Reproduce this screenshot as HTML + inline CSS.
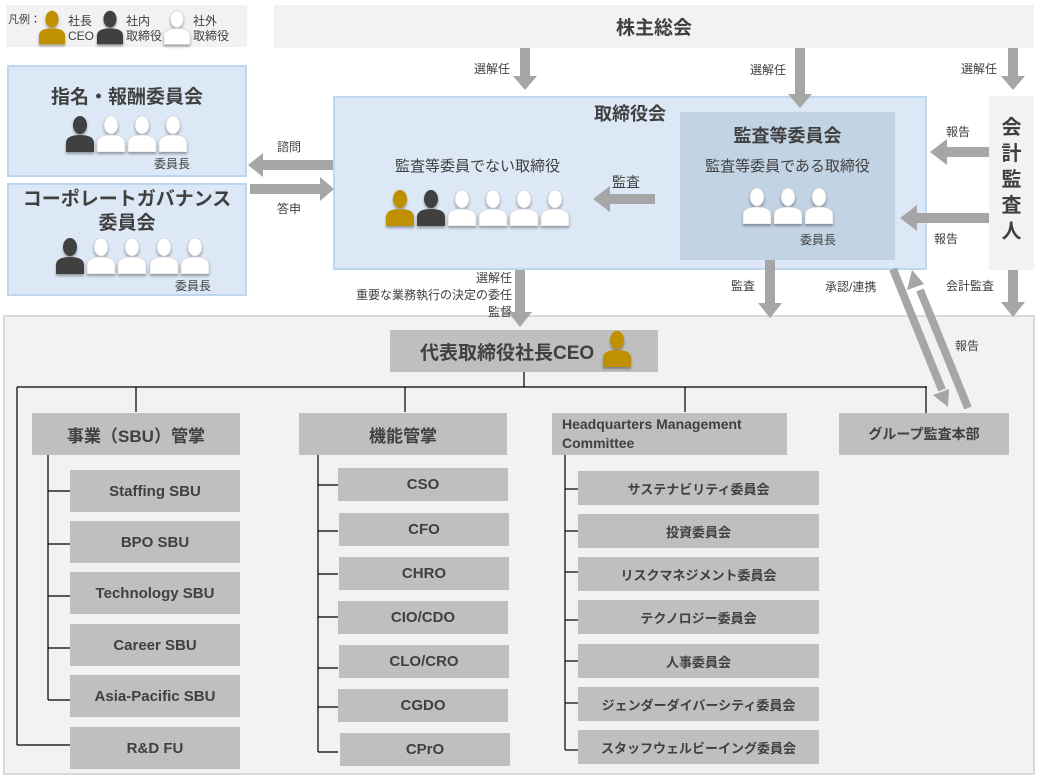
<!DOCTYPE html>
<html><head><meta charset="utf-8"><style>
*{margin:0;padding:0;box-sizing:border-box}
body{width:1042px;height:779px;background:#fff;position:relative;overflow:hidden;font-family:"Liberation Sans","Noto Sans CJK JP",sans-serif;color:#404040}
.a{position:absolute}
.box{position:absolute;display:flex;align-items:center;justify-content:center;text-align:center;font-weight:bold}
.g{background:#bfbfbf}
.t{position:absolute;font-size:12px;white-space:nowrap}
svg{position:absolute;left:0;top:0}
</style></head><body>
<div class="a" style="left:6px;top:5px;width:241px;height:42px;background:#f2f2f2"></div>
<div class="a" style="left:274px;top:5px;width:760px;height:43px;background:#f2f2f2"></div>
<div class="box" style="left:274px;top:5px;width:760px;height:43px;font-size:19px">株主総会</div>
<div class="a" style="left:7px;top:65px;width:240px;height:112px;background:#dce8f5;border:2px solid #bdd7ee"></div>
<div class="a" style="left:7px;top:183px;width:240px;height:113px;background:#dce8f5;border:2px solid #bdd7ee"></div>
<div class="a" style="left:333px;top:96px;width:594px;height:174px;background:#dce8f5;border:2px solid #bdd7ee"></div>
<div class="a" style="left:680px;top:112px;width:215px;height:148px;background:#c2d3e4"></div>
<div class="a" style="left:989px;top:96px;width:45px;height:174px;background:#f2f2f2"></div>
<div class="a" style="left:3px;top:315px;width:1032px;height:460px;background:#f2f2f2;border:2px solid #d9d9d9"></div>

<svg width="1042" height="779">
<defs>
<symbol id="p" viewBox="0 0 30 36"><ellipse cx="15" cy="9" rx="7" ry="9"/><path d="M1 36V27Q1 19 15 19Q29 19 29 27V36Z"/></symbol>
<filter id="s"><feDropShadow dx="0" dy="2" stdDeviation="1.2" flood-color="#000" flood-opacity="0.35"/></filter>
</defs>
<g fill="#a6a6a6">
<path d="M520 48h10v28h7l-12 14-12-14h7z"/>
<path d="M795 48h10v46h7l-12 14-12-14h7z"/>
<path d="M1008 48h10v28h7l-12 14-12-14h7z"/>
<path d="M333 160h-70v-7l-15 12 15 12v-7h70z"/>
<path d="M250 184h70v-7l14 12-14 12v-7h-70z"/>
<path d="M655 194h-45v-8l-17 13 17 13v-8h45z"/>
<path d="M989 147h-42v-8l-17 13 17 13v-8h42z"/>
<path d="M989 213h-72v-8l-17 13 17 13v-8h72z"/>
<path d="M515 270h10v42h7l-12 15-12-15h7z"/>
<path d="M765 260h10v43h7l-12 15-12-15h7z"/>
<path d="M1008 270h10v32h7l-12 15-12-15h7z"/>
</g>
<g stroke="#a6a6a6" stroke-width="8" fill="none">
<line x1="893" y1="269" x2="942" y2="390"/>
<line x1="968" y1="408" x2="920" y2="290"/>
</g>
<g fill="#a6a6a6">
<path d="M933 395l16 -6 -1 18z"/>
<path d="M912 270l-5 20 17 -6z"/>
</g>
<g stroke="#000" stroke-width="1.2" fill="none">
<line x1="524" y1="372" x2="524" y2="387"/>
<line x1="17" y1="387" x2="927" y2="387"/>
<line x1="17" y1="387" x2="17" y2="745"/>
<line x1="17" y1="745" x2="70" y2="745"/>
<line x1="136" y1="387" x2="136" y2="412"/>
<line x1="405" y1="387" x2="405" y2="412"/>
<line x1="685" y1="387" x2="685" y2="412"/>
<line x1="926" y1="387" x2="926" y2="413"/>
<line x1="48" y1="455" x2="48" y2="700"/>
<line x1="48" y1="491" x2="70" y2="491"/><line x1="48" y1="544" x2="70" y2="544"/><line x1="48" y1="596" x2="70" y2="596"/><line x1="48" y1="648" x2="70" y2="648"/><line x1="48" y1="700" x2="70" y2="700"/>
<line x1="318" y1="455" x2="318" y2="752"/>
<line x1="318" y1="485" x2="338" y2="485"/><line x1="318" y1="531" x2="338" y2="531"/><line x1="318" y1="574" x2="338" y2="574"/><line x1="318" y1="617" x2="338" y2="617"/><line x1="318" y1="668" x2="338" y2="668"/><line x1="318" y1="707" x2="338" y2="707"/><line x1="318" y1="752" x2="338" y2="752"/>
<line x1="565" y1="455" x2="565" y2="750"/>
<line x1="565" y1="489" x2="578" y2="489"/><line x1="565" y1="531" x2="578" y2="531"/><line x1="565" y1="572" x2="578" y2="572"/><line x1="565" y1="620" x2="578" y2="620"/><line x1="565" y1="661" x2="578" y2="661"/><line x1="565" y1="703" x2="578" y2="703"/><line x1="565" y1="750" x2="578" y2="750"/>
</g>
<g filter="url(#s)">
<use href="#p" x="38" y="10" width="28" height="35" fill="#bf9000"/>
<use href="#p" x="96" y="10" width="28" height="35" fill="#404040"/>
<use href="#p" x="163" y="10" width="28" height="35" fill="#fff" stroke="#ccc" stroke-width="0.6"/>
<use href="#p" x="65" y="116" width="30" height="36" fill="#404040"/>
<g fill="#fff" stroke="#ccc" stroke-width="0.6">
<use href="#p" x="96" y="116" width="30" height="36"/><use href="#p" x="127" y="116" width="30" height="36"/><use href="#p" x="158" y="116" width="30" height="36"/>
<use href="#p" x="86" y="238" width="30" height="36"/><use href="#p" x="117" y="238" width="30" height="36"/><use href="#p" x="149" y="238" width="30" height="36"/><use href="#p" x="180" y="238" width="30" height="36"/>
<use href="#p" x="447" y="190" width="30" height="36"/><use href="#p" x="478" y="190" width="30" height="36"/><use href="#p" x="509" y="190" width="30" height="36"/><use href="#p" x="540" y="190" width="30" height="36"/>
<use href="#p" x="742" y="188" width="30" height="36"/><use href="#p" x="773" y="188" width="30" height="36"/><use href="#p" x="804" y="188" width="30" height="36"/>
</g>
<use href="#p" x="55" y="238" width="30" height="36" fill="#404040"/>
<use href="#p" x="385" y="190" width="30" height="36" fill="#bf9000"/>
<use href="#p" x="416" y="190" width="30" height="36" fill="#404040"/>
</g>
</svg>

<div class="t" style="left:8px;top:11px;font-size:11px">凡例：</div>
<div class="t" style="left:68px;top:14px;line-height:15px;font-size:12px">社長<br>CEO</div>
<div class="t" style="left:126px;top:14px;line-height:15px;font-size:12px">社内<br>取締役</div>
<div class="t" style="left:193px;top:14px;line-height:15px;font-size:12px">社外<br>取締役</div>

<div class="box" style="left:7px;top:80px;width:240px;height:30px;font-size:19px">指名・報酬委員会</div>
<div class="t" style="left:154px;top:155px">委員長</div>
<div class="box" style="left:7px;top:187px;width:240px;height:50px;font-size:19px;line-height:24px">コーポレートガバナンス<br>委員会</div>
<div class="t" style="left:175px;top:277px">委員長</div>

<div class="box" style="left:580px;top:100px;width:100px;height:26px;font-size:18px">取締役会</div>
<div class="box" style="left:680px;top:122px;width:215px;height:26px;font-size:18px">監査等委員会</div>
<div class="box" style="left:680px;top:155px;width:215px;height:20px;font-size:15px;font-weight:normal">監査等委員である取締役</div>
<div class="box" style="left:370px;top:155px;width:215px;height:20px;font-size:15px;font-weight:normal">監査等委員でない取締役</div>
<div class="t" style="left:612px;top:172px;font-size:14px">監査</div>
<div class="t" style="left:800px;top:231px">委員長</div>
<div class="box" style="left:989px;top:115px;width:45px;height:130px;font-size:20px;line-height:26px">会<br>計<br>監<br>査<br>人</div>

<div class="t" style="left:474px;top:60px">選解任</div>
<div class="t" style="left:750px;top:61px">選解任</div>
<div class="t" style="left:961px;top:60px">選解任</div>
<div class="t" style="left:277px;top:138px">諮問</div>
<div class="t" style="left:277px;top:200px">答申</div>
<div class="t" style="left:946px;top:123px">報告</div>
<div class="t" style="left:934px;top:230px">報告</div>
<div class="t" style="left:300px;top:270px;width:212px;text-align:right;line-height:17px;white-space:normal">選解任<br>重要な業務執行の決定の委任<br>監督</div>
<div class="t" style="left:731px;top:277px">監査</div>
<div class="t" style="left:825px;top:278px">承認/連携</div>
<div class="t" style="left:946px;top:277px">会計監査</div>
<div class="t" style="left:955px;top:337px">報告</div>

<div class="box g" style="left:390px;top:330px;width:268px;height:42px;font-size:19px;justify-content:flex-start;padding-left:30px">代表取締役社長CEO</div>
<svg width="1042" height="779" style="pointer-events:none"><use href="#p" x="602" y="331" width="30" height="36" fill="#bf9000" filter="url(#s)"/></svg>

<div class="box g" style="left:32px;top:413px;width:208px;height:42px;font-size:17px">事業（SBU）管掌</div>
<div class="box g" style="left:299px;top:413px;width:208px;height:42px;font-size:17px">機能管掌</div>
<div class="box g" style="left:552px;top:413px;width:235px;height:42px;font-size:14px;justify-content:flex-start;text-align:left;padding-left:10px;line-height:19px">Headquarters Management<br>Committee</div>
<div class="box g" style="left:839px;top:413px;width:170px;height:42px;font-size:14px">グループ監査本部</div>

<div class="box g" style="left:70px;top:470px;width:170px;height:42px;font-size:15px">Staffing SBU</div>
<div class="box g" style="left:70px;top:521px;width:170px;height:42px;font-size:15px">BPO SBU</div>
<div class="box g" style="left:70px;top:572px;width:170px;height:42px;font-size:15px">Technology SBU</div>
<div class="box g" style="left:70px;top:624px;width:170px;height:42px;font-size:15px">Career SBU</div>
<div class="box g" style="left:70px;top:675px;width:170px;height:42px;font-size:15px">Asia-Pacific SBU</div>
<div class="box g" style="left:70px;top:727px;width:170px;height:42px;font-size:15px">R&amp;D FU</div>

<div class="box g" style="left:338px;top:468px;width:170px;height:33px;font-size:15px">CSO</div>
<div class="box g" style="left:339px;top:513px;width:170px;height:33px;font-size:15px">CFO</div>
<div class="box g" style="left:339px;top:557px;width:170px;height:33px;font-size:15px">CHRO</div>
<div class="box g" style="left:338px;top:601px;width:170px;height:33px;font-size:15px">CIO/CDO</div>
<div class="box g" style="left:339px;top:645px;width:170px;height:33px;font-size:15px">CLO/CRO</div>
<div class="box g" style="left:338px;top:689px;width:170px;height:33px;font-size:15px">CGDO</div>
<div class="box g" style="left:340px;top:733px;width:170px;height:33px;font-size:15px">CPrO</div>

<div class="box g" style="left:578px;top:471px;width:241px;height:34px;font-size:13px">サステナビリティ委員会</div>
<div class="box g" style="left:578px;top:514px;width:241px;height:34px;font-size:13px">投資委員会</div>
<div class="box g" style="left:578px;top:557px;width:241px;height:34px;font-size:13px">リスクマネジメント委員会</div>
<div class="box g" style="left:578px;top:600px;width:241px;height:34px;font-size:13px">テクノロジー委員会</div>
<div class="box g" style="left:578px;top:644px;width:241px;height:34px;font-size:13px">人事委員会</div>
<div class="box g" style="left:578px;top:687px;width:241px;height:34px;font-size:13px">ジェンダーダイバーシティ委員会</div>
<div class="box g" style="left:578px;top:730px;width:241px;height:34px;font-size:13px">スタッフウェルビーイング委員会</div>
</body></html>
